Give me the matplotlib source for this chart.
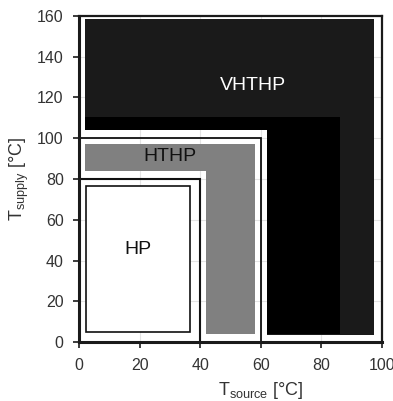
import matplotlib
matplotlib.use("Agg")
import matplotlib.pyplot as plt
from matplotlib.patches import Polygon, Rectangle

plt.rcParams['font.family'] = ['Liberation Sans', 'DejaVu Sans']
plt.rcParams['mathtext.fontset'] = 'custom'
plt.rcParams['mathtext.rm'] = 'Liberation Sans'
plt.rcParams['mathtext.it'] = 'Liberation Sans'

# ---- data (temperatures in °C) ----
x_ticks = [0, 20, 40, 60, 80, 100]
y_ticks = [0, 20, 40, 60, 80, 100, 120, 140, 160]

# VHTHP outer (dark) region, L-shaped
vhthp_outer_x = [62, 97.5, 97.5, 2, 2, 62]
vhthp_outer_y = [3.5, 3.5, 158.3, 158.3, 104, 104]
# VHTHP inner (black) region, L-shaped
vhthp_inner_x = [62, 86, 86, 2, 2, 62]
vhthp_inner_y = [4, 4, 110.5, 110.5, 104, 104]
# HTHP (grey) region, L-shaped
hthp_x = [42, 58, 58, 2, 2, 42]
hthp_y = [4, 4, 97, 97, 84, 84]
# HTHP boundary line
hthp_line_x = [0, 60, 60]
hthp_line_y = [100, 100, 0]
# HP boundary line
hp_line_x = [0, 40, 40]
hp_line_y = [80, 80, 0]
# HP inner box
hp_box_x = [2.2, 36.5]
hp_box_y = [5, 76.5]

labels = ["VHTHP", "HTHP", "HP"]
label_x = [57.5, 30, 19.6]
label_y = [126, 91, 45.5]
label_colors = ["white", "#111111", "#111111"]

fig = plt.figure(figsize=(3.93, 4.01), dpi=100)
ax = fig.add_axes([79/393, 1 - 342.3/401, 303/393, 326.6/401])
ax.set_xlim(0, 100)
ax.set_ylim(0, 160)
ax.set_xticks(x_ticks)
ax.set_yticks(y_ticks)
ax.grid(True, color='#e4e4e4', lw=0.8, zorder=0)
ax.set_axisbelow(True)

ax.add_patch(Polygon(list(zip(vhthp_outer_x, vhthp_outer_y)), closed=True,
                     facecolor='#1a1a1a', edgecolor='none', zorder=1))
ax.add_patch(Polygon(list(zip(vhthp_inner_x, vhthp_inner_y)), closed=True,
                     facecolor='#000000', edgecolor='none', zorder=1.1))
ax.add_patch(Polygon(list(zip(hthp_x, hthp_y)), closed=True,
                     facecolor='#808080', edgecolor='none', zorder=1.2))
ax.plot(hthp_line_x, hthp_line_y, color='#111111', lw=1.3, zorder=2,
        solid_joinstyle='miter')
ax.plot(hp_line_x, hp_line_y, color='#111111', lw=1.5, zorder=2,
        solid_joinstyle='miter')
ax.add_patch(Rectangle((hp_box_x[0], hp_box_y[0]), hp_box_x[1] - hp_box_x[0],
                       hp_box_y[1] - hp_box_y[0], facecolor='white',
                       edgecolor='#111111', lw=1.2, zorder=2))

for t, x, y, c in zip(labels, label_x, label_y, label_colors):
    ax.text(x, y, t, color=c, fontsize=14, ha='center', va='center', zorder=3)

for s in ax.spines.values():
    s.set_linewidth(1.6)
    s.set_color('#1a1a1a')
    s.set_zorder(4)
ax.spines['left'].set_linewidth(2.2)
ax.spines['bottom'].set_linewidth(2.2)

ax.tick_params(axis='both', direction='out', length=4.5, width=1.2,
               color='#1a1a1a', labelsize=11.5, labelcolor='#333333')
ax.tick_params(axis='y', pad=6.5)
ax.tick_params(axis='x', pad=6.5)

ax.text(0.6, -0.115, r'T$_{\mathrm{source}}$ [°C]', transform=ax.transAxes,
        ha='center', va='top', fontsize=13, color='#333333')
ax.text(-0.196, 0.5, r'T$_{\mathrm{supply}}$ [°C]', transform=ax.transAxes,
        ha='center', va='center', rotation=90, fontsize=13, color='#333333')

fig.savefig('out.png', dpi=100)
